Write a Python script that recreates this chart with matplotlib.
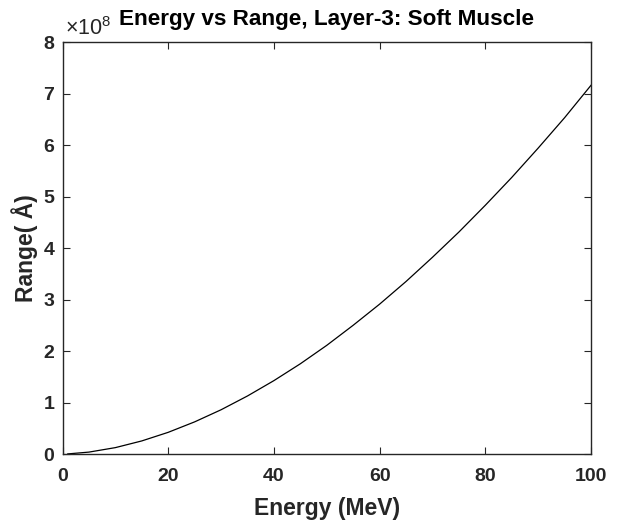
import numpy as np
import matplotlib.pyplot as plt
from matplotlib.ticker import FixedLocator, FuncFormatter

plt.rcParams['font.family'] = ['Liberation Sans', 'DejaVu Sans']
plt.rcParams['mathtext.fontset'] = 'custom'
plt.rcParams['mathtext.rm'] = 'Liberation Sans'
plt.rcParams['mathtext.it'] = 'Liberation Sans'

# values (range in units of 1e8 Angstrom)
energy = [1, 5, 10, 15, 20, 25, 30, 35, 40, 45, 50,
          55, 60, 65, 70, 75, 80, 85, 90, 95, 100]
range_1e8 = [0.002, 0.037, 0.124, 0.254, 0.421, 0.624, 0.859, 1.127, 1.425, 1.752, 2.11,
             2.50, 2.91, 3.35, 3.82, 4.31, 4.83, 5.37, 5.94, 6.53, 7.16]
x_ticks = [0, 20, 40, 60, 80, 100]
y_ticks = [0, 1, 2, 3, 4, 5, 6, 7, 8]

fig = plt.figure(figsize=(6.17, 5.27), dpi=100)
ax = fig.add_axes([0.1013, 0.1385, 0.8566, 0.7818])

ax.plot(energy, np.array(range_1e8) * 1e8, color='black', lw=0.9)

ax.set_xlim(0, 100)
ax.set_ylim(0, 8e8)
ax.xaxis.set_major_locator(FixedLocator(x_ticks))
ax.yaxis.set_major_locator(FixedLocator([v * 1e8 for v in y_ticks]))
ax.yaxis.set_major_formatter(FuncFormatter(lambda v, p: '%d' % round(v / 1e8)))

dark = '#262626'
for s in ax.spines.values():
    s.set_linewidth(1.0)
    s.set_color(dark)
ax.tick_params(direction='in', length=5, width=0.8, top=True, right=True,
               colors=dark, labelsize=14)
ax.tick_params(axis='x', pad=10)
ax.tick_params(axis='y', pad=6)
for lab in ax.get_xticklabels() + ax.get_yticklabels():
    lab.set_fontweight('bold')

ax.text(0.005, 1.006, r'$\times10^{8}$', transform=ax.transAxes,
        fontsize=15.5, color=dark, ha='left', va='bottom')

ax.set_title('Energy vs Range, Layer-3: Soft Muscle', fontsize=16.2,
             fontweight='bold', color='black', pad=12)
ax.set_xlabel('Energy (MeV)', fontsize=16.5, fontweight='bold', color=dark, labelpad=9)
ax.set_ylabel('Range( Å)', fontsize=16.5, fontweight='bold', color=dark, labelpad=4)

fig.savefig('out.png', dpi=100)
